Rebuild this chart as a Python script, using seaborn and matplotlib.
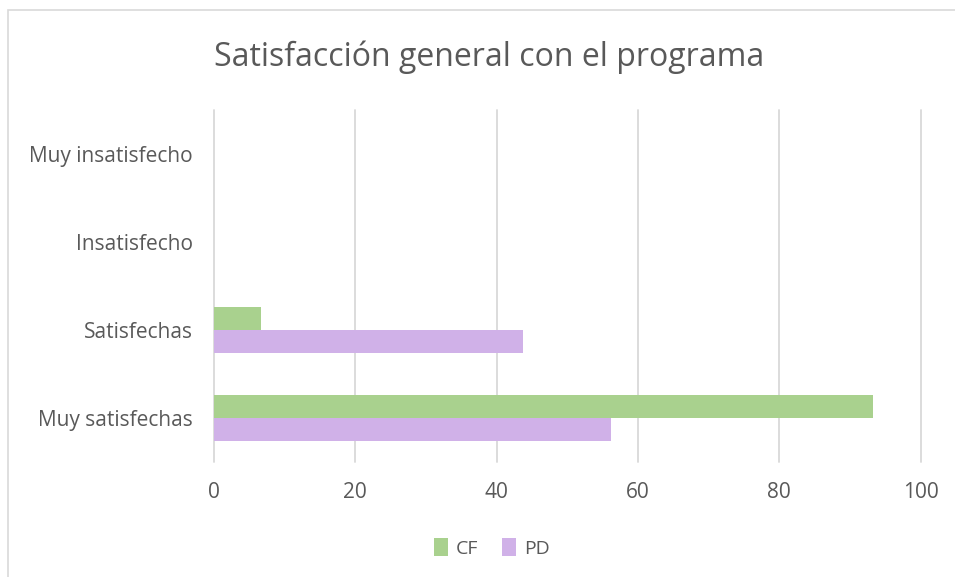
import pandas as pd
import matplotlib.pyplot as plt
import seaborn as sns

# Datos
categorias = ['Muy insatisfecho', 'Insatisfecho', 'Satisfechas', 'Muy satisfechas']
cf = [0, 0, 6.7, 93.3]
pd_vals = [0, 0, 43.8, 56.2]
grupos = ['CF', 'PD']

df = pd.DataFrame({
    'categoria': categorias * 2,
    'valor': cf + pd_vals,
    'grupo': ['CF'] * 4 + ['PD'] * 4,
})

sns.set_style('white')
plt.rcParams['font.family'] = ['Open Sans', 'DejaVu Sans']
gris = '#595959'

fig = plt.figure(figsize=(9.55, 5.77), dpi=100)
ax = fig.add_axes([0.224, 0.199, 0.740, 0.610])

sns.barplot(data=df, x='valor', y='categoria', hue='grupo', order=categorias,
            hue_order=grupos, palette=['#a9d18e', '#d0b1e8'], width=0.52,
            orient='h', ax=ax, saturation=1, linewidth=0)

ax.set_xlim(0, 100)
ax.set_xticks(range(0, 101, 20))
ax.set_ylim(3.5, -0.5)
ax.grid(axis='x', color='#d9d9d9', linewidth=1.3)
for gl in ax.get_xgridlines():
    gl.set_clip_on(False)
ax.set_axisbelow(True)
for s in ax.spines.values():
    s.set_visible(False)
ax.set_xlabel('')
ax.set_ylabel('')
ax.tick_params(axis='y', length=0, labelsize=15, colors=gris, pad=15)
ax.tick_params(axis='x', length=0, labelsize=15, colors=gris, pad=14)

fig.suptitle('Satisfacción general con el programa', x=0.512, y=0.93,
             fontsize=23, color=gris)

ax.legend_.remove()
handles, labels = ax.get_legend_handles_labels()
fig.legend(handles, labels, loc='center', bbox_to_anchor=(0.515, 0.05), ncol=2,
           frameon=False, fontsize=14, labelcolor=gris, handlelength=0.75,
           handleheight=1.0, handletextpad=0.4, columnspacing=1.2)

# borde exterior del gráfico
fig.patches.append(plt.Rectangle((0.008, -0.1), 1.1, 1.082, transform=fig.transFigure,
                                 fill=False, edgecolor='#d9d9d9', linewidth=1.2))

fig.savefig('out.png', dpi=100)
